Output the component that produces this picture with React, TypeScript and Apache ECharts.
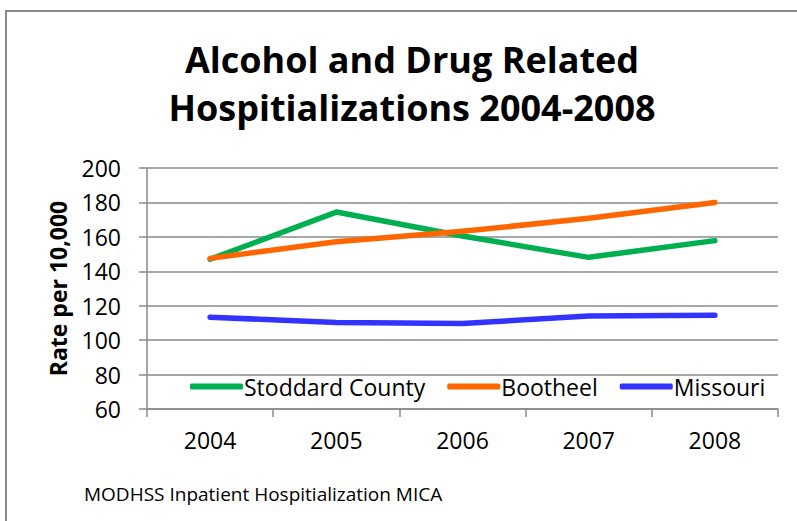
import React, { useEffect, useRef } from "react";
import * as echarts from "echarts";

const years = ["2004", "2005", "2006", "2007", "2008"];
const stoddard = [147, 174.4, 160.5, 148.1, 157.8];
const bootheel = [147.5, 157.2, 163.2, 170.8, 180];
const missouri = [113.3, 110.3, 109.7, 114.0, 114.4];

const FONT = "'Open Sans', 'Noto Sans', sans-serif";

export default function App() {
  const ref = useRef<HTMLDivElement>(null);
  useEffect(() => {
    document.body.style.margin = "0";
    const chart = echarts.init(ref.current!, null, { renderer: "svg" });
    chart.setOption({
      animation: false,
      backgroundColor: "#ffffff",
      textStyle: { fontFamily: FONT },
      title: {
        text: "Alcohol and Drug Related\nHospitializations 2004-2008",
        left: 407,
        textAlign: "center",
        top: 30,
        textStyle: {
          fontFamily: FONT,
          fontWeight: "bold",
          fontSize: 36,
          lineHeight: 48,
          color: "#000000",
        },
      },
      legend: {
        left: 185,
        top: 370,
        itemWidth: 53,
        itemHeight: 6,
        itemGap: 22,
        icon: "roundRect",
        textStyle: { fontFamily: FONT, fontSize: 23, color: "#000", padding: [0, 0, 0, -4] },
        data: ["Stoddard County", "Bootheel", "Missouri"],
      },
      grid: { left: 147, right: 19, top: 168, bottom: 112 },
      xAxis: {
        type: "category",
        data: years,
        boundaryGap: true,
        axisLine: { lineStyle: { color: "#8a8a8a", width: 1.5 } },
        axisTick: { show: true, length: 8, lineStyle: { color: "#8a8a8a", width: 1.5 } },
        axisLabel: { fontFamily: FONT, fontSize: 23, color: "#000", margin: 19 },
      },
      yAxis: {
        type: "value",
        min: 60,
        max: 200,
        interval: 20,
        name: "Rate per 10,000",
        nameLocation: "middle",
        nameRotate: 90,
        nameGap: 78,
        nameTextStyle: { fontFamily: FONT, fontSize: 23, fontWeight: "bold", color: "#000" },
        axisLine: { show: true, lineStyle: { color: "#8a8a8a", width: 1.5 } },
        axisTick: { show: true, length: 8, lineStyle: { color: "#8a8a8a", width: 1.5 } },
        axisLabel: { fontFamily: FONT, fontSize: 23, color: "#000", margin: 26 },
        splitLine: { show: true, lineStyle: { color: "#8a8a8a", width: 1.5 } },
      },
      series: [
        {
          name: "Stoddard County",
          type: "line",
          data: stoddard,
          showSymbol: false,
          symbol: "none",
          color: "#00B050",
          lineStyle: { width: 5.5, color: "#00B050", cap: "round", join: "round" },
        },
        {
          name: "Bootheel",
          type: "line",
          data: bootheel,
          showSymbol: false,
          symbol: "none",
          color: "#FF6600",
          lineStyle: { width: 5.5, color: "#FF6600", cap: "round", join: "round" },
        },
        {
          name: "Missouri",
          type: "line",
          data: missouri,
          showSymbol: false,
          symbol: "none",
          color: "#3333FF",
          lineStyle: { width: 5.5, color: "#3333FF", cap: "round", join: "round" },
        },
      ],
      graphic: [
        {
          type: "rect",
          shape: { x: 6, y: 11, width: 900, height: 700 },
          style: { fill: "none", stroke: "#8a8a8a", lineWidth: 2 },
          silent: true,
        },
        {
          type: "text",
          left: 84,
          top: 484,
          style: {
            text: "MODHSS Inpatient Hospitialization MICA",
            font: "19px 'Open Sans', sans-serif",
            fill: "#000",
          },
        },
      ],
    });
    return () => chart.dispose();
  }, []);
  return (
    <div
      ref={ref}
      style={{ position: "fixed", left: 0, top: 0, width: 797, height: 521 }}
    />
  );
}
